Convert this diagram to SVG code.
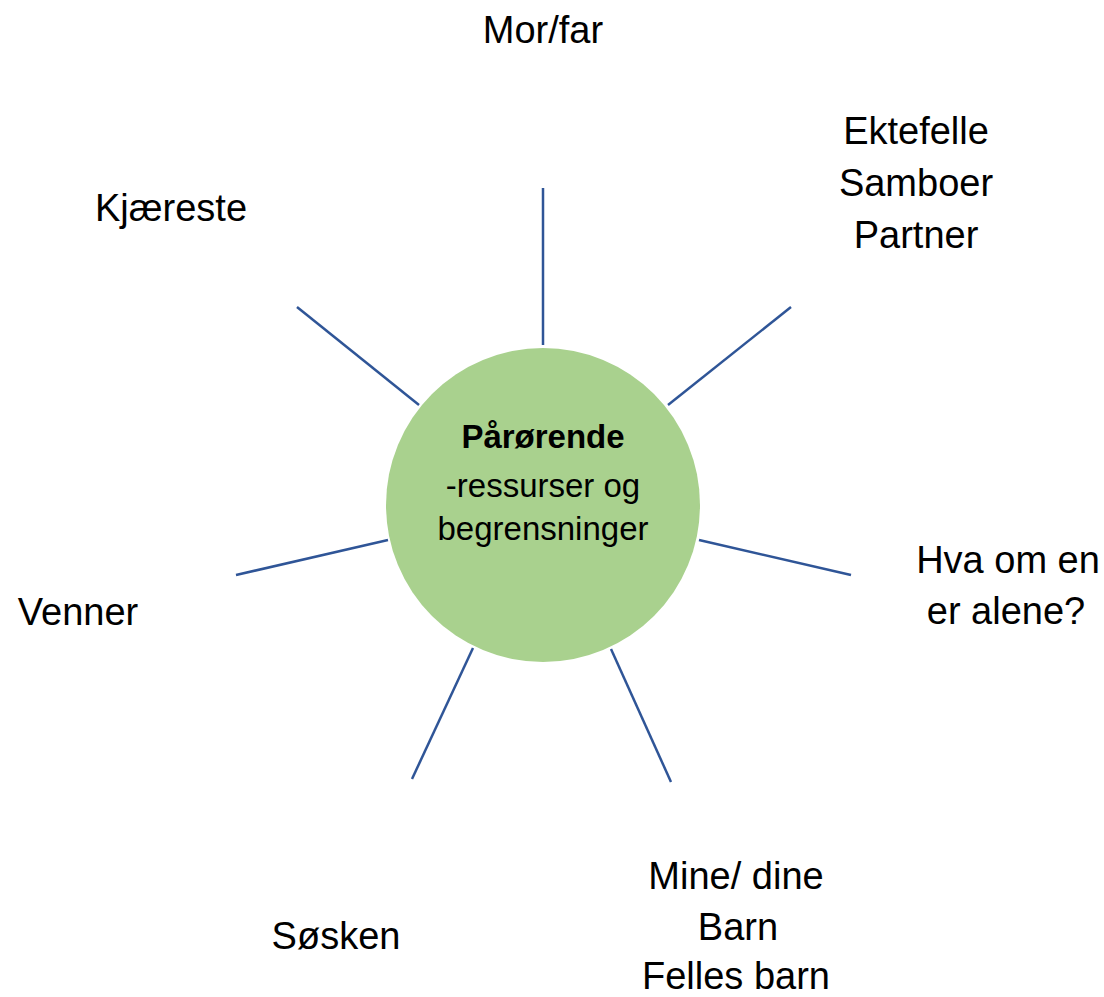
<svg xmlns="http://www.w3.org/2000/svg" width="1104" height="997" viewBox="0 0 1104 997">
<style>
.lbl{font-family:"Liberation Sans",Arial,sans-serif;font-size:38px;fill:#000;text-anchor:middle}
.ctr{font-family:"Liberation Sans",Arial,sans-serif;font-size:33px;fill:#000;text-anchor:middle}
.spoke{stroke:#2F5597;stroke-width:2.5;fill:none}
</style>
<rect width="1104" height="997" fill="#fff"/>
<g id="connectors">
<line class="spoke" x1="543" y1="188" x2="543" y2="345"/>
<line class="spoke" x1="297" y1="307" x2="419" y2="405"/>
<line class="spoke" x1="791" y1="307" x2="668" y2="405"/>
<line class="spoke" x1="699" y1="540" x2="851" y2="575"/>
<line class="spoke" x1="236" y1="575" x2="388" y2="540"/>
<line class="spoke" x1="473" y1="648" x2="412" y2="779"/>
<line class="spoke" x1="611" y1="649" x2="671" y2="782"/>
</g>
<g id="center">
<circle cx="543" cy="505" r="157" fill="#A9D18E"/>
<text class="ctr" x="543" y="448" font-weight="bold">Pårørende</text>
<text class="ctr" x="543" y="497">-ressurser og</text>
<text class="ctr" x="543" y="540">begrensninger</text>
</g>
<g id="morfar"><text class="lbl" x="543" y="43">Mor/far</text></g>
<g id="ektefelle">
<text class="lbl" x="916" y="144">Ektefelle</text>
<text class="lbl" x="916" y="196">Samboer</text>
<text class="lbl" x="916" y="248">Partner</text>
</g>
<g id="kjaereste"><text class="lbl" x="171" y="221">Kjæreste</text></g>
<g id="alene">
<text class="lbl" x="1008" y="573">Hva om en</text>
<text class="lbl" x="1006" y="624">er alene?</text>
</g>
<g id="venner"><text class="lbl" x="78" y="625">Venner</text></g>
<g id="sosken"><text class="lbl" x="336" y="949">Søsken</text></g>
<g id="barn">
<text class="lbl" x="736" y="889">Mine/ dine</text>
<text class="lbl" x="738" y="940">Barn</text>
<text class="lbl" x="736" y="989">Felles barn</text>
</g>
</svg>
